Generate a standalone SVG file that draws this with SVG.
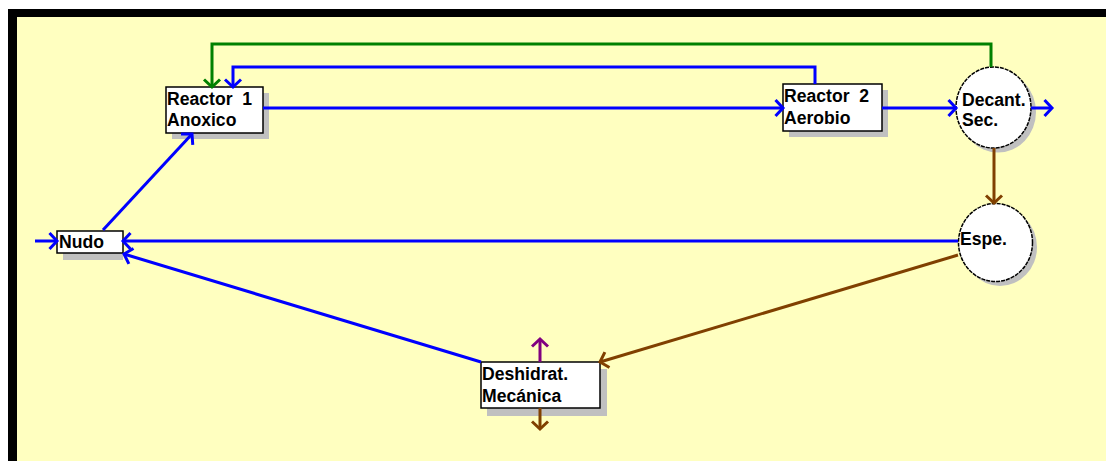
<svg xmlns="http://www.w3.org/2000/svg" width="1106" height="461" viewBox="0 0 1106 461">
  <style>
    .bg { fill: #FFFFC0; }
    .frame { fill: #000; }
    .box { fill: #fff; stroke: #000; stroke-width: 1.5; }
    .tank { fill: #fff; stroke: #000; stroke-width: 1.5; stroke-dasharray: 4 1; }
    .shadow { fill: #C0C0C0; }
    .lbl { font-family: "Liberation Sans", Arial, sans-serif; font-weight: bold; font-size: 17.6px; fill: #000; white-space: pre; }
    .c { fill: none; stroke-width: 3; stroke-linejoin: miter; }
    .blue { stroke: #0000FF; }
    .green { stroke: #008000; }
    .brown { stroke: #804000; }
    .purple { stroke: #800080; }
  </style>
  <defs>
    <marker id="ah-blue" markerUnits="userSpaceOnUse" viewBox="-10 -10 12 20" refX="0" refY="0" markerWidth="12" markerHeight="20" orient="auto" overflow="visible">
      <path d="M -7.5 -8 L 0 0 L -7.5 8" fill="none" stroke="#0000FF" stroke-width="3"/>
    </marker>
    <marker id="ah-green" markerUnits="userSpaceOnUse" viewBox="-10 -10 12 20" refX="0" refY="0" markerWidth="12" markerHeight="20" orient="auto" overflow="visible">
      <path d="M -7.5 -8 L 0 0 L -7.5 8" fill="none" stroke="#008000" stroke-width="3"/>
    </marker>
    <marker id="ah-brown" markerUnits="userSpaceOnUse" viewBox="-10 -10 12 20" refX="0" refY="0" markerWidth="12" markerHeight="20" orient="auto" overflow="visible">
      <path d="M -7.5 -8 L 0 0 L -7.5 8" fill="none" stroke="#804000" stroke-width="3"/>
    </marker>
    <marker id="ah-purple" markerUnits="userSpaceOnUse" viewBox="-10 -10 12 20" refX="0" refY="0" markerWidth="12" markerHeight="20" orient="auto" overflow="visible">
      <path d="M -7.5 -8 L 0 0 L -7.5 8" fill="none" stroke="#800080" stroke-width="3"/>
    </marker>
  </defs>

  <!-- canvas and frame -->
  <rect x="0" y="0" width="1106" height="461" fill="#fff"/>
  <rect class="bg" x="8" y="9" width="1098" height="452"/>
  <rect class="frame" x="8" y="9" width="1098" height="8"/>
  <rect class="frame" x="8" y="9" width="9" height="452"/>

  <!-- node bodies -->
  <g id="reactor1">
    <rect class="shadow" x="172" y="93" width="97" height="46"/>
    <rect class="box" x="166" y="87" width="97" height="46"/>
    <text class="lbl" x="167" y="105">Reactor  1</text>
    <text class="lbl" x="167" y="126">Anoxico</text>
  </g>

  <g id="reactor2">
    <rect class="shadow" x="789" y="90" width="99" height="47"/>
    <rect class="box" x="783" y="84" width="99" height="47"/>
    <text class="lbl" x="784" y="102">Reactor  2</text>
    <text class="lbl" x="784" y="124">Aerobio</text>
  </g>

  <g id="decantador">
    <ellipse class="shadow" cx="998" cy="112" rx="38" ry="40.5"/>
    <ellipse class="tank" cx="993.5" cy="107.5" rx="37.5" ry="40.5"/>
    <text class="lbl" x="962" y="106">Decant.</text>
    <text class="lbl" x="962" y="126">Sec.</text>
  </g>

  <g id="espesador">
    <ellipse class="shadow" cx="1000" cy="247" rx="37" ry="39"/>
    <ellipse class="tank" cx="995.5" cy="242.5" rx="37" ry="39"/>
    <text class="lbl" x="960" y="245">Espe.</text>
  </g>

  <g id="nudo">
    <rect class="shadow" x="63" y="237" width="60" height="23"/>
    <rect class="box" x="57" y="231" width="66" height="22"/>
    <text class="lbl" x="59" y="248">Nudo</text>
  </g>

  <g id="deshidratacion">
    <rect class="shadow" x="487" y="369" width="120" height="47"/>
    <rect class="box" x="481" y="362" width="119" height="46"/>
    <text class="lbl" x="482" y="380">Deshidrat.</text>
    <text class="lbl" x="482" y="402">Mecánica</text>
  </g>

  <!-- connectors -->
  <g id="connectors">
    <!-- external recycle: decanter to reactor 1 -->
    <polyline class="c green" points="991,67 991,44 212,44 212,87" marker-end="url(#ah-green)"/>
    <!-- internal recycle: reactor 2 to reactor 1 -->
    <polyline class="c blue" points="815,84 815,67 233,67 233,87" marker-end="url(#ah-blue)"/>
    <!-- main line -->
    <line class="c blue" x1="263" y1="108" x2="783" y2="108" marker-end="url(#ah-blue)"/>
    <line class="c blue" x1="882" y1="108" x2="956" y2="108" marker-end="url(#ah-blue)"/>
    <line class="c blue" x1="1031" y1="108" x2="1052" y2="108" marker-end="url(#ah-blue)"/>
    <!-- sludge to thickener -->
    <line class="c brown" x1="994" y1="148" x2="994" y2="203" marker-end="url(#ah-brown)"/>
    <!-- thickener supernatant to node -->
    <line class="c blue" x1="958" y1="241" x2="123" y2="241" marker-end="url(#ah-blue)"/>
    <!-- thickened sludge to dewatering -->
    <line class="c brown" x1="958" y1="255" x2="600" y2="362" marker-end="url(#ah-brown)"/>
    <!-- dewatering filtrate to node -->
    <line class="c blue" x1="481" y1="362" x2="124" y2="254" marker-end="url(#ah-blue)"/>
    <!-- node to reactor 1 -->
    <line class="c blue" x1="103" y1="230" x2="192" y2="134" marker-end="url(#ah-blue)"/>
    <!-- influent -->
    <line class="c blue" x1="35" y1="241" x2="57" y2="241" marker-end="url(#ah-blue)"/>
    <!-- dewatering outputs -->
    <line class="c purple" x1="540" y1="362" x2="540" y2="339" marker-end="url(#ah-purple)"/>
    <line class="c brown" x1="540" y1="408" x2="540" y2="429" marker-end="url(#ah-brown)"/>
  </g>
</svg>
